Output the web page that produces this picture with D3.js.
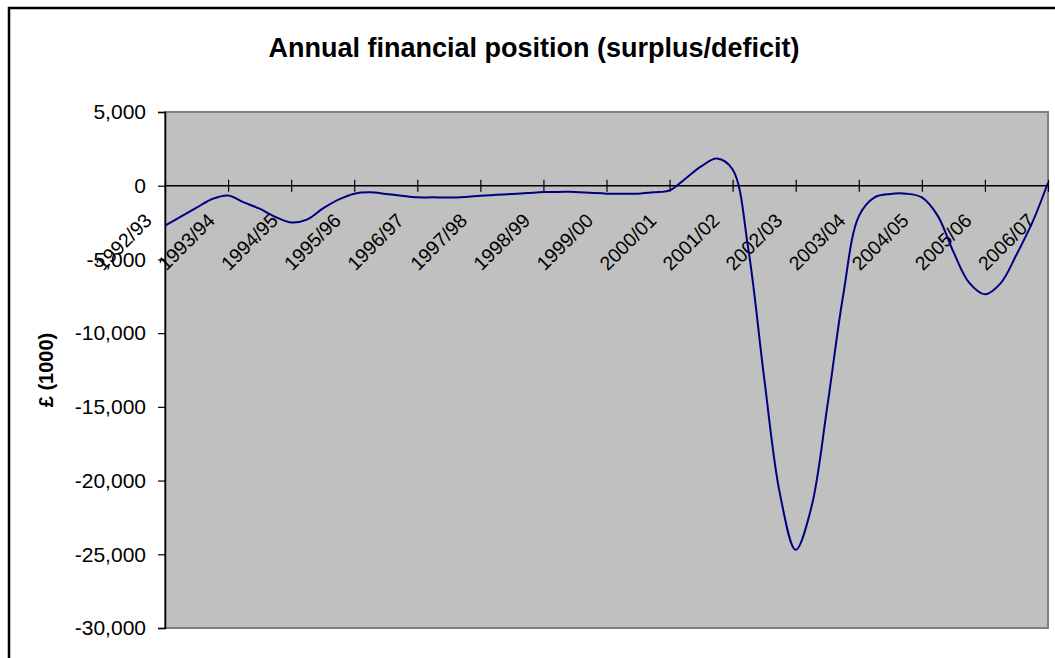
<!DOCTYPE html>
<html>
<head>
<meta charset="utf-8">
<script src="https://cdn.jsdelivr.net/npm/d3@7"></script>
<style>
  html, body { margin: 0; padding: 0; background: #fff; }
  svg { display: block; }
  text { font-family: "Liberation Sans", Arial, sans-serif; fill: #000; }
</style>
</head>
<body>
<svg id="chart" width="1055" height="658"></svg>
<script>
// ---- data ----
const title = "Annual financial position (surplus/deficit)";
const yAxisTitle = "£ (1000)";
const years = ["1992/93","1993/94","1994/95","1995/96","1996/97","1997/98","1998/99",
  "1999/00","2000/01","2001/02","2002/03","2003/04","2004/05","2005/06","2006/07"];
const pointsPerYear = 4;
// quarterly surplus/deficit, £ (1000)
const values = [
  -2710, -2100, -1490, -900,
  -660, -1130, -1560, -2120,
  -2490, -2300, -1560, -950,
  -540, -450, -560, -680,
  -790, -790, -800, -760,
  -680, -620, -560, -500,
  -430, -420, -420, -480,
  -540, -550, -540, -450,
  -320, 475, 1310, 1850,
  1100, -4340, -13050, -20900,
  -24700, -21780, -15000, -7500,
  -2080, -790, -560, -540,
  -790, -2030, -4480, -6580,
  -7370, -6610, -4680, -2510,
  200
];
const yTicks = [5000, 0, -5000, -10000, -15000, -20000, -25000, -30000];

// ---- layout ----
const svg = d3.select("#chart");
const plot = {left: 165, right: 1048, top: 112, bottom: 628};

const x = d3.scaleLinear().domain([0, values.length - 1]).range([plot.left, plot.right]);
const y = d3.scaleLinear().domain([-30000, 5000]).range([plot.bottom, plot.top]);

// outer chart border (right and bottom edges fall outside the picture)
svg.append("rect")
  .attr("x", 9).attr("y", 8).attr("width", 1060).attr("height", 680)
  .attr("fill", "#fff").attr("stroke", "#000").attr("stroke-width", 2.5);

// title
svg.append("text")
  .attr("x", 534).attr("y", 57)
  .attr("text-anchor", "middle")
  .style("font-size", "27px").style("font-weight", "bold")
  .text(title);

// plot area
svg.append("rect")
  .attr("x", plot.left).attr("y", plot.top)
  .attr("width", plot.right - plot.left).attr("height", plot.bottom - plot.top)
  .attr("fill", "#c0c0c0").attr("stroke", "#808080").attr("stroke-width", 2);

// y axis
const fmt = d3.format(",");
const yAxis = d3.axisLeft(y)
  .tickValues(yTicks)
  .tickSize(7).tickPadding(12)
  .tickFormat(d => fmt(d).replace("\u2212", "-"));
const gy = svg.append("g").attr("transform", `translate(${plot.left},0)`).call(yAxis);
gy.select(".domain").attr("stroke", "#000").attr("stroke-width", 1.5);
gy.selectAll(".tick line").attr("stroke", "#000").attr("stroke-width", 1.2);
gy.selectAll(".tick text")
  .style("font-size", "21px")
  .style("font-family", '"Liberation Sans", Arial, sans-serif');

// y axis title
svg.append("text")
  .attr("transform", `translate(53,370) rotate(-90)`)
  .attr("text-anchor", "middle")
  .style("font-size", "20px").style("font-weight", "bold")
  .text(yAxisTitle);

// x axis (crossing at 0)
const tickIdx = years.map((d, i) => i * pointsPerYear);
const xAxis = d3.axisBottom(x)
  .tickValues(tickIdx)
  .tickSizeInner(12).tickSizeOuter(0)
  .tickFormat("");
const gx = svg.append("g").attr("transform", `translate(0,${y(0) - 6})`).call(xAxis);
gx.select(".domain").remove();
gx.selectAll(".tick line").attr("stroke", "#000").attr("stroke-width", 1.2);
svg.append("line")
  .attr("x1", plot.left).attr("x2", plot.right)
  .attr("y1", y(0)).attr("y2", y(0))
  .attr("stroke", "#000").attr("stroke-width", 1.5);

// x labels rotated 45 degrees
svg.append("g").selectAll("text")
  .data(years)
  .join("text")
  .attr("transform", (d, i) => `translate(${x(i * pointsPerYear) - 12},${y(0) + 36}) rotate(-45)`)
  .attr("text-anchor", "end")
  .style("font-size", "19.5px")
  .text(d => d);

// data line
const line = d3.line()
  .x((d, i) => x(i))
  .y(d => y(d))
  .curve(d3.curveCatmullRom.alpha(0.5));
svg.append("path")
  .datum(values)
  .attr("d", line)
  .attr("fill", "none")
  .attr("stroke", "#000080")
  .attr("stroke-width", 2);
</script>
</body>
</html>
